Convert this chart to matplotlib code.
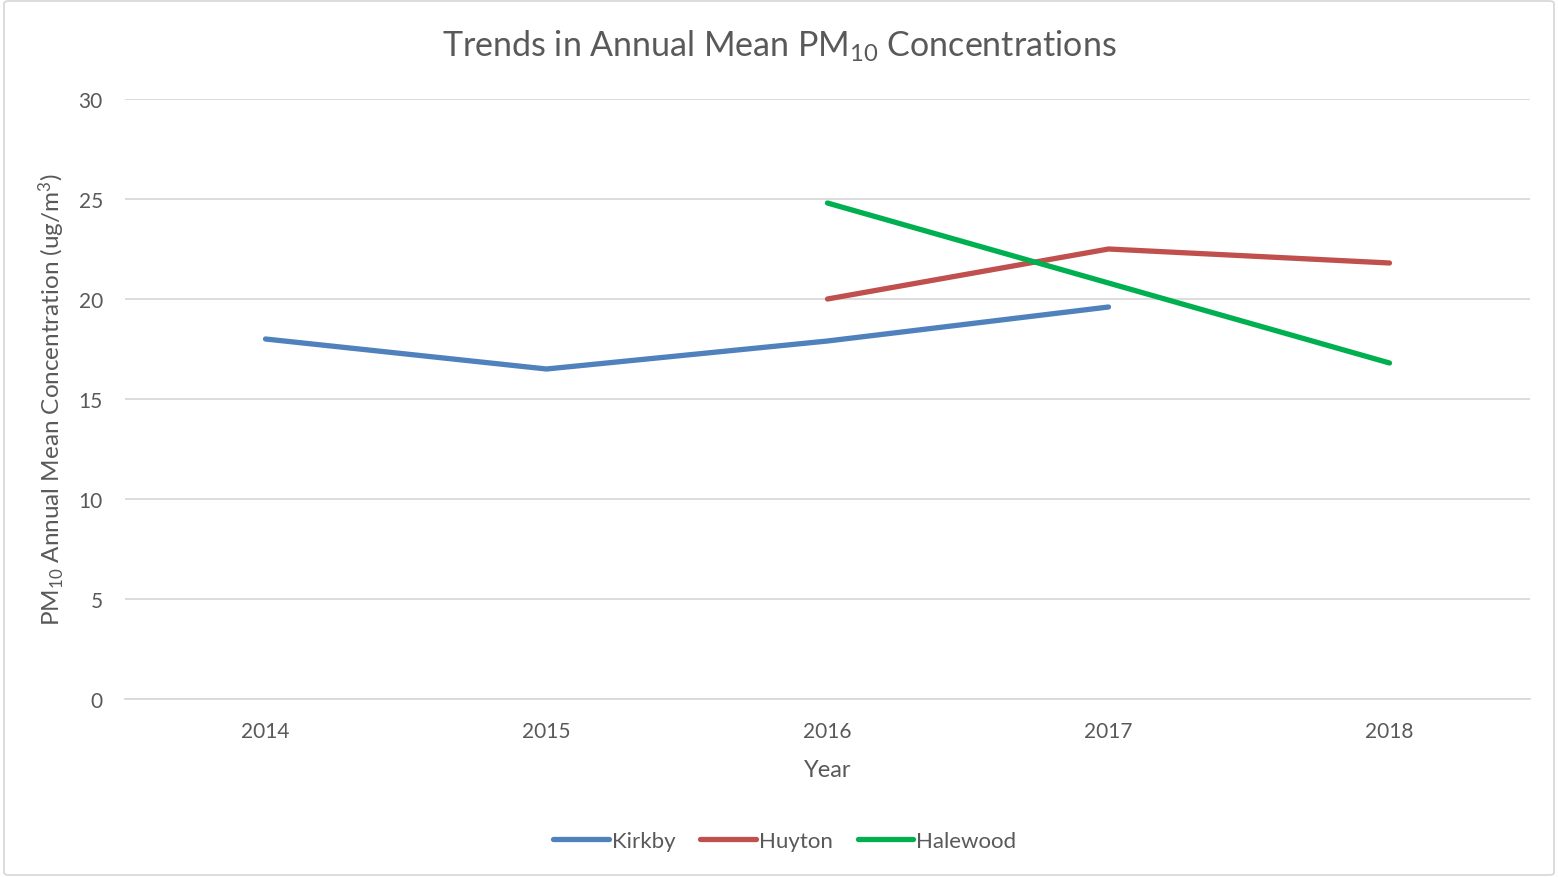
import numpy as np
import matplotlib.pyplot as plt
from matplotlib.patches import FancyBboxPatch

# Dados
anos = ["2014", "2015", "2016", "2017", "2018"]
kirkby = [18.0, 16.5, 17.9, 19.6, np.nan]
huyton = [np.nan, np.nan, 20.0, 22.5, 21.8]
halewood = [np.nan, np.nan, 24.8, 20.8, 16.8]

cor_texto = "#595959"
plt.rcParams['font.family'] = ['Lato', 'DejaVu Sans']
plt.rcParams['mathtext.fontset'] = 'custom'
plt.rcParams['mathtext.rm'] = 'Lato'
plt.rcParams['mathtext.it'] = 'Lato:italic'
plt.rcParams['mathtext.bf'] = 'Lato:bold'


def main():
    fig = plt.figure(figsize=(15.58, 8.78), dpi=100)
    ax = fig.add_axes([125/1558, 1 - 700/878, 1405/1558, 600/878])

    x = np.arange(len(anos))
    ax.plot(x, kirkby, color="#4f81bd", lw=3.8, solid_capstyle="round", label="Kirkby")
    ax.plot(x, huyton, color="#c0504d", lw=3.8, solid_capstyle="round", label="Huyton")
    ax.plot(x, halewood, color="#00b050", lw=3.8, solid_capstyle="round", label="Halewood")

    ax.set_xlim(-0.5, len(anos) - 0.5)
    ax.set_ylim(0, 30)
    ax.set_yticks(range(0, 31, 5))
    ax.set_xticks(x)
    ax.set_xticklabels(anos)
    ax.grid(axis="y", color="#d9d9d9", lw=1.3)
    ax.set_axisbelow(True)
    for s in ["top", "right", "left"]:
        ax.spines[s].set_visible(False)
    ax.spines["bottom"].set_color("#d9d9d9")
    ax.spines["bottom"].set_linewidth(1.3)
    ax.tick_params(length=0, labelsize=15, colors=cor_texto)
    ax.tick_params(axis="y", pad=16)
    ax.tick_params(axis="x", pad=16)

    ax.set_xlabel("Year", fontsize=17, color=cor_texto, labelpad=13)
    ax.set_ylabel(r"PM$_{10}$ Annual Mean Concentration (ug/m$^3$)", fontsize=17.5,
                  color=cor_texto, labelpad=8)
    fig.text(0.5, 1 - 46/878, r"Trends in Annual Mean PM$_{10}$ Concentrations",
             ha="center", va="center", fontsize=24.5, color=cor_texto)

    leg = fig.legend(loc="center", bbox_to_anchor=(785/1558, 1 - 842/878), ncol=3,
                     frameon=False, fontsize=16, handlelength=2.5, handletextpad=0.15,
                     columnspacing=1.1)
    for t in leg.get_texts():
        t.set_color(cor_texto)

    borda = FancyBboxPatch((4/1558, 2/878), 1 - 8/1558, 1 - 4/878,
                           boxstyle="round,pad=0,rounding_size=0.003",
                           transform=fig.transFigure, fill=False,
                           edgecolor="#d9d9d9", lw=1.3)
    fig.patches.append(borda)

    fig.savefig("out.png", dpi=100)


if __name__ == "__main__":
    main()
